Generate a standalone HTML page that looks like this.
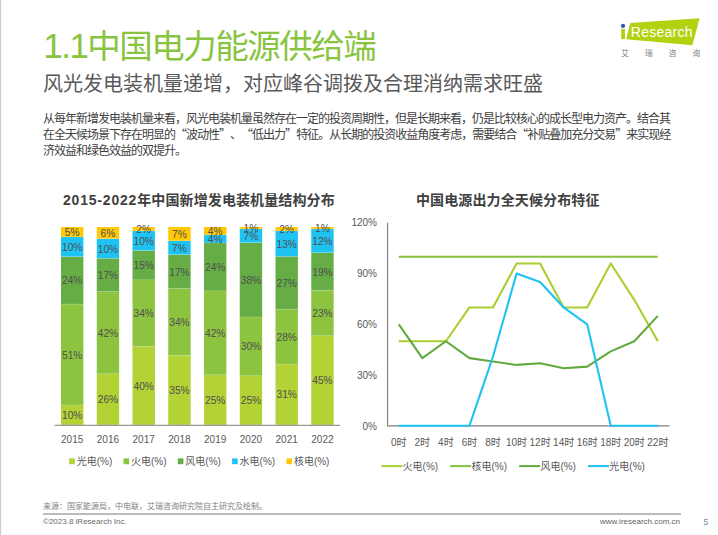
<!DOCTYPE html>
<html lang="zh-CN"><head><meta charset="utf-8">
<title>1.1中国电力能源供给端</title>
<style>
*{margin:0;padding:0;box-sizing:border-box}
html,body{width:718px;height:535px;overflow:hidden;background:#fff}
body{position:relative;font-family:"Liberation Sans", "Noto Sans CJK SC", sans-serif;text-spacing-trim:space-all}
.abs{position:absolute;white-space:nowrap}
.edge0{position:absolute;left:0;top:0;width:1px;height:535px;background:#cdced1}
.edge1{position:absolute;left:1px;top:0;width:1px;height:535px;background:#f8f8f9}
#title{left:43.2px;top:26.1px;font-size:33.5px;letter-spacing:-1.5px;line-height:40px;color:#88C440;font-weight:400}
#title .n{font-size:35px}
#title .n2{font-size:35px;letter-spacing:0;margin-right:-1.5px}
#sub{left:43px;top:70.5px;font-size:20px;line-height:26px;color:#595959}
.para{left:43px;font-size:12px;letter-spacing:-1px;line-height:16px;color:#404040}
.q{font-family:"Noto Sans CJK SC",sans-serif}
.ct{font-size:14px;line-height:18px;color:#404040;font-weight:700;letter-spacing:0.12px}
svg text{font-family:"Liberation Sans", "Noto Sans CJK SC", sans-serif}
.dl{font-size:10.2px;fill:#4f4f4f;text-anchor:middle}
.yr{font-size:10px;fill:#595959;text-anchor:middle}
.lg{font-size:10px;fill:#595959}
.ax{font-size:10px;fill:#595959;text-anchor:end}
.xl{font-size:10px;fill:#595959;text-anchor:middle}
.foot{font-size:8px;color:#7f7f7f;line-height:10px}
</style></head><body>
<div class="edge0"></div><div class="edge1"></div>
<div id="title" class="abs"><span class="n">1.</span><span class="n2">1</span>中国电力能源供给端</div>
<div id="sub" class="abs">风光发电装机量递增，对应峰谷调拨及合理消纳需求旺盛</div>
<div class="abs para" style="top:111px">从每年新增发电装机量来看，风光电装机量虽然存在一定的投资周期性，但是长期来看，仍是比较核心的成长型电力资产。结合其</div>
<div class="abs para" style="top:126.3px">在全天候场景下存在明显的<span class="q">“</span>波动性<span class="q">”</span>、<span class="q">“</span>低出力<span class="q">”</span>特征。从长期的投资收益角度考虑，需要结合<span class="q">“</span>补贴叠加充分交易<span class="q">”</span>来实现经</div>
<div class="abs para" style="top:142.8px">济效益和绿色效益的双提升。</div>
<div class="abs ct" style="left:63px;top:191px"><span style="letter-spacing:0.8px">2015-2022</span>年中国新增发电装机量结构分布</div>
<div class="abs ct" style="left:416px;top:191px">中国电源出力全天候分布特征</div>
<svg class="abs" style="left:0;top:0" width="718" height="535" viewBox="0 0 718 535">
<rect x="61.00" y="405.02" width="22.4" height="19.78" fill="#B2D235"/>
<rect x="61.00" y="304.14" width="22.4" height="100.88" fill="#8CC43F"/>
<rect x="61.00" y="256.67" width="22.4" height="47.47" fill="#66AD45"/>
<rect x="61.00" y="236.89" width="22.4" height="19.78" fill="#1FC3F2"/>
<rect x="61.00" y="227.00" width="22.4" height="9.89" fill="#FFC907"/>
<rect x="61.00" y="404.52" width="22.4" height="0.8" fill="#ffffff" fill-opacity="0.22"/>
<rect x="61.00" y="303.64" width="22.4" height="0.8" fill="#ffffff" fill-opacity="0.22"/>
<rect x="61.00" y="256.17" width="22.4" height="0.8" fill="#ffffff" fill-opacity="0.22"/>
<rect x="61.00" y="236.39" width="22.4" height="0.8" fill="#ffffff" fill-opacity="0.22"/>
<text x="72.20" y="418.91" class="dl">10%</text>
<text x="72.20" y="358.58" class="dl">51%</text>
<text x="72.20" y="284.41" class="dl">24%</text>
<text x="72.20" y="250.78" class="dl">10%</text>
<text x="72.20" y="235.94" class="dl">5%</text>
<text x="72.20" y="442.5" class="yr">2015</text>
<rect x="96.75" y="373.88" width="22.4" height="50.92" fill="#B2D235"/>
<rect x="96.75" y="291.63" width="22.4" height="82.25" fill="#8CC43F"/>
<rect x="96.75" y="258.33" width="22.4" height="33.29" fill="#66AD45"/>
<rect x="96.75" y="238.75" width="22.4" height="19.58" fill="#1FC3F2"/>
<rect x="96.75" y="227.00" width="22.4" height="11.75" fill="#FFC907"/>
<rect x="96.75" y="373.38" width="22.4" height="0.8" fill="#ffffff" fill-opacity="0.22"/>
<rect x="96.75" y="291.13" width="22.4" height="0.8" fill="#ffffff" fill-opacity="0.22"/>
<rect x="96.75" y="257.83" width="22.4" height="0.8" fill="#ffffff" fill-opacity="0.22"/>
<rect x="96.75" y="238.25" width="22.4" height="0.8" fill="#ffffff" fill-opacity="0.22"/>
<text x="107.95" y="403.34" class="dl">26%</text>
<text x="107.95" y="336.75" class="dl">42%</text>
<text x="107.95" y="278.98" class="dl">17%</text>
<text x="107.95" y="252.54" class="dl">10%</text>
<text x="107.95" y="236.88" class="dl">6%</text>
<text x="107.95" y="442.5" class="yr">2016</text>
<rect x="132.50" y="346.46" width="22.4" height="78.34" fill="#B2D235"/>
<rect x="132.50" y="279.88" width="22.4" height="66.59" fill="#8CC43F"/>
<rect x="132.50" y="250.50" width="22.4" height="29.38" fill="#66AD45"/>
<rect x="132.50" y="230.92" width="22.4" height="19.58" fill="#1FC3F2"/>
<rect x="132.50" y="227.00" width="22.4" height="3.92" fill="#FFC907"/>
<rect x="132.50" y="345.96" width="22.4" height="0.8" fill="#ffffff" fill-opacity="0.22"/>
<rect x="132.50" y="279.38" width="22.4" height="0.8" fill="#ffffff" fill-opacity="0.22"/>
<rect x="132.50" y="250.00" width="22.4" height="0.8" fill="#ffffff" fill-opacity="0.22"/>
<rect x="132.50" y="230.42" width="22.4" height="0.8" fill="#ffffff" fill-opacity="0.22"/>
<text x="143.70" y="389.63" class="dl">40%</text>
<text x="143.70" y="317.17" class="dl">34%</text>
<text x="143.70" y="269.19" class="dl">15%</text>
<text x="143.70" y="244.71" class="dl">10%</text>
<text x="143.70" y="232.96" class="dl">2%</text>
<text x="143.70" y="442.5" class="yr">2017</text>
<rect x="168.25" y="355.57" width="22.4" height="69.23" fill="#B2D235"/>
<rect x="168.25" y="288.32" width="22.4" height="67.25" fill="#8CC43F"/>
<rect x="168.25" y="254.69" width="22.4" height="33.63" fill="#66AD45"/>
<rect x="168.25" y="240.85" width="22.4" height="13.85" fill="#1FC3F2"/>
<rect x="168.25" y="227.00" width="22.4" height="13.85" fill="#FFC907"/>
<rect x="168.25" y="355.07" width="22.4" height="0.8" fill="#ffffff" fill-opacity="0.22"/>
<rect x="168.25" y="287.82" width="22.4" height="0.8" fill="#ffffff" fill-opacity="0.22"/>
<rect x="168.25" y="254.19" width="22.4" height="0.8" fill="#ffffff" fill-opacity="0.22"/>
<rect x="168.25" y="240.35" width="22.4" height="0.8" fill="#ffffff" fill-opacity="0.22"/>
<text x="179.45" y="394.19" class="dl">35%</text>
<text x="179.45" y="325.94" class="dl">34%</text>
<text x="179.45" y="275.50" class="dl">17%</text>
<text x="179.45" y="251.77" class="dl">7%</text>
<text x="179.45" y="237.92" class="dl">7%</text>
<text x="179.45" y="442.5" class="yr">2018</text>
<rect x="204.00" y="374.85" width="22.4" height="49.95" fill="#B2D235"/>
<rect x="204.00" y="290.94" width="22.4" height="83.92" fill="#8CC43F"/>
<rect x="204.00" y="242.98" width="22.4" height="47.95" fill="#66AD45"/>
<rect x="204.00" y="234.99" width="22.4" height="7.99" fill="#1FC3F2"/>
<rect x="204.00" y="227.00" width="22.4" height="7.99" fill="#FFC907"/>
<rect x="204.00" y="374.35" width="22.4" height="0.8" fill="#ffffff" fill-opacity="0.22"/>
<rect x="204.00" y="290.44" width="22.4" height="0.8" fill="#ffffff" fill-opacity="0.22"/>
<rect x="204.00" y="242.48" width="22.4" height="0.8" fill="#ffffff" fill-opacity="0.22"/>
<rect x="204.00" y="234.49" width="22.4" height="0.8" fill="#ffffff" fill-opacity="0.22"/>
<text x="215.20" y="403.83" class="dl">25%</text>
<text x="215.20" y="336.89" class="dl">42%</text>
<text x="215.20" y="270.96" class="dl">24%</text>
<text x="215.20" y="242.99" class="dl">4%</text>
<text x="215.20" y="235.00" class="dl">4%</text>
<text x="215.20" y="442.5" class="yr">2019</text>
<rect x="239.75" y="375.84" width="22.4" height="48.96" fill="#B2D235"/>
<rect x="239.75" y="317.09" width="22.4" height="58.75" fill="#8CC43F"/>
<rect x="239.75" y="242.67" width="22.4" height="74.42" fill="#66AD45"/>
<rect x="239.75" y="228.96" width="22.4" height="13.71" fill="#1FC3F2"/>
<rect x="239.75" y="227.00" width="22.4" height="1.96" fill="#FFC907"/>
<rect x="239.75" y="375.34" width="22.4" height="0.8" fill="#ffffff" fill-opacity="0.22"/>
<rect x="239.75" y="316.59" width="22.4" height="0.8" fill="#ffffff" fill-opacity="0.22"/>
<rect x="239.75" y="242.17" width="22.4" height="0.8" fill="#ffffff" fill-opacity="0.22"/>
<rect x="239.75" y="228.46" width="22.4" height="0.8" fill="#ffffff" fill-opacity="0.22"/>
<text x="250.95" y="404.32" class="dl">25%</text>
<text x="250.95" y="350.46" class="dl">30%</text>
<text x="250.95" y="283.88" class="dl">38%</text>
<text x="250.95" y="239.81" class="dl">7%</text>
<text x="250.95" y="231.98" class="dl">1%</text>
<text x="250.95" y="442.5" class="yr">2020</text>
<rect x="275.50" y="364.09" width="22.4" height="60.71" fill="#B2D235"/>
<rect x="275.50" y="309.25" width="22.4" height="54.84" fill="#8CC43F"/>
<rect x="275.50" y="256.38" width="22.4" height="52.88" fill="#66AD45"/>
<rect x="275.50" y="230.92" width="22.4" height="25.46" fill="#1FC3F2"/>
<rect x="275.50" y="227.00" width="22.4" height="3.92" fill="#FFC907"/>
<rect x="275.50" y="363.59" width="22.4" height="0.8" fill="#ffffff" fill-opacity="0.22"/>
<rect x="275.50" y="308.75" width="22.4" height="0.8" fill="#ffffff" fill-opacity="0.22"/>
<rect x="275.50" y="255.88" width="22.4" height="0.8" fill="#ffffff" fill-opacity="0.22"/>
<rect x="275.50" y="230.42" width="22.4" height="0.8" fill="#ffffff" fill-opacity="0.22"/>
<text x="286.70" y="398.44" class="dl">31%</text>
<text x="286.70" y="340.67" class="dl">28%</text>
<text x="286.70" y="286.81" class="dl">27%</text>
<text x="286.70" y="247.65" class="dl">13%</text>
<text x="286.70" y="232.96" class="dl">2%</text>
<text x="286.70" y="442.5" class="yr">2021</text>
<rect x="311.25" y="335.79" width="22.4" height="89.01" fill="#B2D235"/>
<rect x="311.25" y="290.30" width="22.4" height="45.49" fill="#8CC43F"/>
<rect x="311.25" y="252.71" width="22.4" height="37.58" fill="#66AD45"/>
<rect x="311.25" y="228.98" width="22.4" height="23.74" fill="#1FC3F2"/>
<rect x="311.25" y="227.00" width="22.4" height="1.98" fill="#FFC907"/>
<rect x="311.25" y="335.29" width="22.4" height="0.8" fill="#ffffff" fill-opacity="0.22"/>
<rect x="311.25" y="289.80" width="22.4" height="0.8" fill="#ffffff" fill-opacity="0.22"/>
<rect x="311.25" y="252.21" width="22.4" height="0.8" fill="#ffffff" fill-opacity="0.22"/>
<rect x="311.25" y="228.48" width="22.4" height="0.8" fill="#ffffff" fill-opacity="0.22"/>
<text x="322.45" y="384.30" class="dl">45%</text>
<text x="322.45" y="317.04" class="dl">23%</text>
<text x="322.45" y="275.50" class="dl">19%</text>
<text x="322.45" y="244.85" class="dl">12%</text>
<text x="322.45" y="231.99" class="dl">1%</text>
<text x="322.45" y="442.5" class="yr">2022</text>
<rect x="54.6" y="424.8" width="285.5" height="1" fill="#7f7f7f"/>
<rect x="69.20" y="458.4" width="5.6" height="5.8" fill="#B2D235"/>
<text x="76.70" y="465" class="lg">光电(%)</text>
<rect x="123.50" y="458.4" width="5.6" height="5.8" fill="#8CC43F"/>
<text x="131.00" y="465" class="lg">火电(%)</text>
<rect x="177.80" y="458.4" width="5.6" height="5.8" fill="#66AD45"/>
<text x="185.30" y="465" class="lg">风电(%)</text>
<rect x="232.10" y="458.4" width="5.6" height="5.8" fill="#1FC3F2"/>
<text x="239.60" y="465" class="lg">水电(%)</text>
<rect x="286.40" y="458.4" width="5.6" height="5.8" fill="#FFC907"/>
<text x="293.90" y="465" class="lg">核电(%)</text>
<polyline points="387.6,222.8 387.6,425.9 669.5,425.9" fill="none" stroke="#7f7f7f" stroke-width="1.1" stroke-linejoin="round"/>
<polyline points="398.80,341.25 422.35,341.25 445.90,341.25 469.45,307.43 493.00,307.43 516.55,263.46 540.10,263.46 563.65,307.43 587.20,307.43 610.75,263.46 634.30,299.82 657.85,341.25" fill="none" stroke="#AACF30" stroke-width="2.1" stroke-linejoin="round"/>
<polyline points="398.80,256.70 422.35,256.70 445.90,256.70 469.45,256.70 493.00,256.70 516.55,256.70 540.10,256.70 563.65,256.70 587.20,256.70 610.75,256.70 634.30,256.70 657.85,256.70" fill="none" stroke="#86C23F" stroke-width="2.1" stroke-linejoin="round"/>
<polyline points="398.80,324.34 422.35,358.16 445.90,341.25 469.45,358.16 493.00,361.54 516.55,364.92 540.10,363.23 563.65,368.31 587.20,366.62 610.75,351.40 634.30,341.25 657.85,315.88" fill="none" stroke="#62AA40" stroke-width="2.1" stroke-linejoin="round"/>
<polyline points="398.80,425.80 422.35,425.80 445.90,425.80 469.45,425.80 493.00,356.47 516.55,273.61 540.10,282.06 563.65,307.43 587.20,324.34 610.75,425.80 634.30,425.80 657.85,425.80" fill="none" stroke="#1FC3F2" stroke-width="2.1" stroke-linejoin="round"/>
<text x="377" y="225.90" class="ax">120%</text>
<text x="377" y="276.90" class="ax">90%</text>
<text x="377" y="327.90" class="ax">60%</text>
<text x="377" y="378.90" class="ax">30%</text>
<text x="377" y="429.90" class="ax">0%</text>
<text x="398.80" y="446.3" class="xl">0时</text>
<text x="422.35" y="446.3" class="xl">2时</text>
<text x="445.90" y="446.3" class="xl">4时</text>
<text x="469.45" y="446.3" class="xl">6时</text>
<text x="493.00" y="446.3" class="xl">8时</text>
<text x="516.55" y="446.3" class="xl">10时</text>
<text x="540.10" y="446.3" class="xl">12时</text>
<text x="563.65" y="446.3" class="xl">14时</text>
<text x="587.20" y="446.3" class="xl">16时</text>
<text x="610.75" y="446.3" class="xl">18时</text>
<text x="634.30" y="446.3" class="xl">20时</text>
<text x="657.85" y="446.3" class="xl">22时</text>
<rect x="381.30" y="465.1" width="21" height="2" fill="#AACF30"/>
<text x="402.60" y="470" class="lg">火电(%)</text>
<rect x="450.20" y="465.1" width="21" height="2" fill="#86C23F"/>
<text x="471.50" y="470" class="lg">核电(%)</text>
<rect x="519.10" y="465.1" width="21" height="2" fill="#62AA40"/>
<text x="540.40" y="470" class="lg">风电(%)</text>
<rect x="588.00" y="465.1" width="21" height="2" fill="#1FC3F2"/>
<text x="609.30" y="470" class="lg">光电(%)</text>
</svg>
<!-- logo -->
<svg class="abs" style="left:0;top:0" width="718" height="535" viewBox="0 0 718 535">
<polygon points="630.3,23.0 699.6,18.3 692.4,45.2 626.1,39.3" fill="#B2D10E"/>
<rect x="621.2" y="28.9" width="3.8" height="10.2" fill="#B2D10E"/>
<circle cx="623.0" cy="25.9" r="2.1" fill="#2B5DAB"/>
<text x="630.8" y="37.3" style="font-size:14px;letter-spacing:0.25px;fill:#fff;font-family:"Liberation Sans", "Noto Sans CJK SC", sans-serif">Research</text>
<text x="621" y="55.8" style="font-size:8px;fill:#7f7f7f;font-family:"Liberation Sans", "Noto Sans CJK SC", sans-serif">艾</text>
<text x="644.8" y="55.8" style="font-size:8px;fill:#7f7f7f;font-family:"Liberation Sans", "Noto Sans CJK SC", sans-serif">瑞</text>
<text x="668.6" y="55.8" style="font-size:8px;fill:#7f7f7f;font-family:"Liberation Sans", "Noto Sans CJK SC", sans-serif">咨</text>
<text x="692.3" y="55.8" style="font-size:8px;fill:#7f7f7f;font-family:"Liberation Sans", "Noto Sans CJK SC", sans-serif">询</text>
</svg>
<div class="abs foot" style="left:43px;top:501.5px">来源：国家能源局，中电联，艾瑞咨询研究院自主研究及绘制。</div>
<div class="abs" style="left:43px;top:513px;width:638px;height:2px;background:#bbbbbb"></div>
<div class="abs foot" style="left:43px;top:517px;color:#6a6a6a">©2023.8 iResearch Inc.</div>
<div class="abs foot" style="left:600px;top:517px;color:#5f5f5f">www.iresearch.com.cn</div>
<div class="abs foot" style="left:703.5px;top:517px;font-size:8.5px;color:#7b8595">5</div>
</body></html>
